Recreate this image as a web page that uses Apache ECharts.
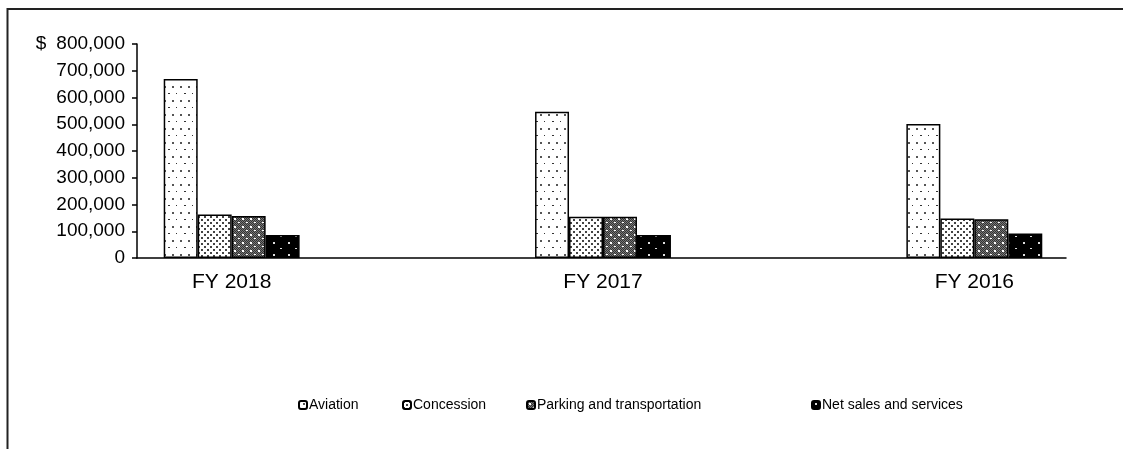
<!DOCTYPE html>
<html>
<head>
<meta charset="utf-8">
<script src="https://cdn.jsdelivr.net/npm/echarts@6/dist/echarts.min.js"></script>
<style>html,body{margin:0;padding:0;background:#fff}#c{width:1123px;height:449px}</style>
</head>
<body>
<div id="c"></div>
<script>
const categories = ['FY 2018', 'FY 2017', 'FY 2016'];
const seriesNames = ['Aviation', 'Concession', 'Parking and transportation', 'Net sales and services'];
const aviation = [669000, 547000, 501000];
const concession = [163000, 154000, 148000];
const parking = [157000, 154000, 145000];
const netSales = [86000, 86000, 92000];
const yTicks = [0, 100000, 200000, 300000, 400000, 500000, 600000, 700000, 800000];

function makePattern(w, h, draw) {
  const c = document.createElement('canvas');
  c.width = w; c.height = h;
  const ctx = c.getContext('2d');
  draw(ctx, w, h);
  return { image: c, repeat: 'repeat' };
}
const patAviation = makePattern(16, 14, (ctx) => {
  ctx.fillStyle = '#fff'; ctx.fillRect(0, 0, 16, 14);
  ctx.fillStyle = '#555';
  ctx.fillRect(4, 2, 2, 2);
  ctx.fillRect(12, 2, 2, 2);
  ctx.fillStyle = '#333';
  ctx.fillRect(8, 9, 2, 1);
  ctx.fillRect(0, 9, 1, 1);
});
const patConcession = makePattern(6, 6, (ctx) => {
  ctx.fillStyle = '#fff'; ctx.fillRect(0, 0, 6, 6);
  ctx.fillStyle = '#444';
  ctx.fillRect(0, 0, 2, 2);
  ctx.fillRect(3, 3, 2, 2);
});
const patParking = makePattern(8, 8, (ctx) => {
  ctx.fillStyle = '#fff'; ctx.fillRect(0, 0, 8, 8);
  ctx.fillStyle = '#333';
  for (let y = 0; y < 8; y++) for (let x = 0; x < 8; x++) if ((x + y) % 2 === 0) ctx.fillRect(x, y, 1, 1);
  ctx.fillStyle = '#777';
  for (let y = 0; y < 8; y++) for (let x = 0; x < 8; x++) if ((x + y) % 2 === 1) ctx.fillRect(x, y, 1, 1);
  ctx.fillStyle = '#fff';
  ctx.fillRect(2, 2, 2, 2);
  ctx.fillRect(6, 6, 2, 1);
});
const patNet = makePattern(15, 12, (ctx) => {
  ctx.fillStyle = '#000'; ctx.fillRect(0, 0, 15, 12);
  ctx.fillStyle = '#ddd';
  ctx.fillRect(3, 2, 2, 2);
  ctx.fillRect(10, 8, 2, 1);
});
const patterns = [patAviation, patConcession, patParking, patNet];
const values = [aviation, concession, parking, netSales];

const legendLefts = [298, 402, 526, 811];
const legends = seriesNames.map((n, i) => ({
  data: [n], left: legendLefts[i], top: 398, orient: 'horizontal',
  itemWidth: 8, itemHeight: 8, padding: 0,
  textStyle: { fontFamily: 'Liberation Sans, Arial', fontSize: 14, color: '#000', padding: [0, 0, 0, -3] },
  selectedMode: false
}));

const font = 'Liberation Sans, Arial';
const chart = echarts.init(document.getElementById('c'), null, { renderer: 'canvas' });
chart.setOption({
  animation: false,
  backgroundColor: '#fff',
  graphic: [{ type: 'rect', shape: { x: 7.5, y: 9, width: 1200, height: 500 }, style: { fill: 'none', stroke: '#222', lineWidth: 2 }, silent: true, z: -1 }],
  legend: legends,
  grid: [
    { left: 46, width: 1114, top: 44, bottom: 191, containLabel: false, outerBoundsMode: 'none' },
    { left: 137, right: 57, top: 44, bottom: 191, containLabel: false, outerBoundsMode: 'none' }
  ],
  xAxis: [
    {
      type: 'category', data: categories, gridIndex: 0,
      axisLine: { show: false },
      axisTick: { show: false },
      axisLabel: { fontFamily: font, fontSize: 21, color: '#000', margin: 14 }
    },
    {
      type: 'value', gridIndex: 1, min: 0, max: 1,
      axisLine: { show: true, onZero: false, lineStyle: { color: '#000', width: 1.5 } },
      axisTick: { show: false }, axisLabel: { show: false }, splitLine: { show: false }
    }
  ],
  yAxis: [
    {
      type: 'value', gridIndex: 0, min: 0, max: 800000, interval: 100000,
      show: false, splitLine: { show: false }
    },
    {
      type: 'value', gridIndex: 1, min: 0, max: 800000, interval: 100000,
      splitLine: { show: false },
      axisLine: { show: true, lineStyle: { color: '#000', width: 1.5 } },
      axisTick: { show: true, inside: false, length: 5, lineStyle: { color: '#000', width: 1.5 } },
      axisLabel: {
        fontFamily: font, fontSize: 19, color: '#000', margin: 12,
        formatter: function (v) {
          const s = v.toString().replace(/\B(?=(\d{3})+(?!\d))/g, ',');
          return v === yTicks[yTicks.length - 1] ? '{d|$}' + s : s;
        },
        rich: { d: { fontFamily: font, fontSize: 19, color: '#000', padding: [0, 10, 0, 0] } }
      }
    }
  ],
  series: seriesNames.map((n, i) => ({
    name: n, type: 'bar', data: values[i], xAxisIndex: 0, yAxisIndex: 0,
    barGap: '0%', barCategoryGap: '63.4%',
    itemStyle: { color: patterns[i], borderColor: '#000', borderWidth: 1.5 }
  }))
});
</script>
</body>
</html>
